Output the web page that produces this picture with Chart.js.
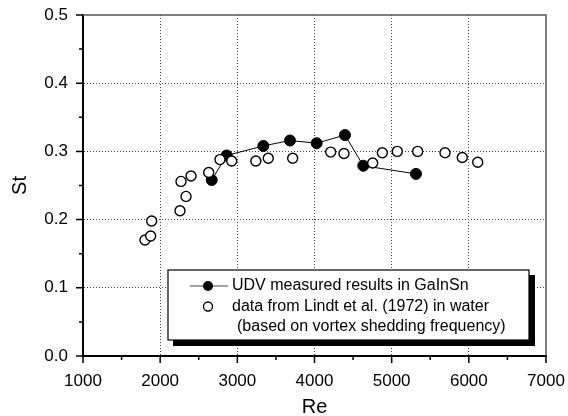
<!DOCTYPE html>
<html>
<head>
<meta charset="utf-8">
<script src="https://cdn.jsdelivr.net/npm/chart.js@4/dist/chart.umd.min.js"></script>
<style>
  html, body { margin: 0; padding: 0; background: #fff; }
  #wrap { width: 568px; height: 416px; }
</style>
</head>
<body>
<div id="wrap"><canvas id="stChart" width="568" height="416"></canvas></div>
<script>
// UDV measurements (filled, joined by a line)
const udvRe = [2668, 2862, 3337, 3682, 4028, 4395, 4632, 5315];
const udvSt = [0.258, 0.294, 0.308, 0.316, 0.312, 0.324, 0.279, 0.267];

// Lindt et al. (1972), water (open circles)
const lindtRe = [1803, 1877, 1890, 2257, 2270, 2335, 2400, 2629, 2775, 2927, 3240,
                 3401, 3717, 4210, 4382, 4754, 4879, 5073, 5337, 5691, 5915, 6115];
const lindtSt = [0.170, 0.176, 0.198, 0.213, 0.256, 0.234, 0.264, 0.269, 0.288, 0.286, 0.286,
                 0.290, 0.290, 0.299, 0.297, 0.283, 0.298, 0.300, 0.300, 0.298, 0.291, 0.284];

const legendLines = [
    'UDV measured results in GaInSn',
    'data from Lindt et al. (1972) in water',
    '(based on vortex shedding frequency)'
];

const FONT = "'Liberation Sans', Arial, sans-serif";
Chart.defaults.font.family = FONT;
Chart.defaults.color = '#000';

function toPoints(xs, ys) {
    return xs.map((x, i) => ({ x: x, y: ys[i] }));
}

const isMajorX = v => Math.round(v) % 1000 === 0;
const isMajorY = v => Math.round(v * 100) % 10 === 0;

// frame (top/right), outward tick marks and the boxed legend
const decorations = {
    id: 'decorations',
    afterDraw(chart) {
        const ctx = chart.ctx;
        const a = chart.chartArea;
        const xs = chart.scales.x, ys = chart.scales.y;
        ctx.save();

        // top and right frame lines
        ctx.strokeStyle = '#555';
        ctx.lineWidth = 1.5;
        ctx.beginPath();
        ctx.moveTo(a.left, a.top);
        ctx.lineTo(a.right, a.top);
        ctx.lineTo(a.right, a.bottom);
        ctx.stroke();

        // tick marks
        ctx.strokeStyle = '#000';
        ctx.lineWidth = 1.5;
        ctx.beginPath();
        xs.ticks.forEach(t => {
            const px = xs.getPixelForValue(t.value);
            const len = isMajorX(t.value) ? 7 : 4;
            ctx.moveTo(px, a.bottom);
            ctx.lineTo(px, a.bottom + len);
        });
        ys.ticks.forEach(t => {
            const py = ys.getPixelForValue(t.value);
            const len = isMajorY(t.value) ? 7 : 4;
            ctx.moveTo(a.left, py);
            ctx.lineTo(a.left - len, py);
        });
        ctx.stroke();

        // legend box with drop shadow
        const bx = 168, by = 270, bw = 361, bh = 70;
        ctx.fillStyle = '#000';
        ctx.fillRect(bx + 5, by + 5, bw + 1, bh + 1);
        ctx.fillStyle = '#fff';
        ctx.fillRect(bx, by, bw, bh);
        ctx.strokeStyle = '#000';
        ctx.lineWidth = 1.2;
        ctx.strokeRect(bx, by, bw, bh);

        // legend symbols
        ctx.strokeStyle = '#444';
        ctx.lineWidth = 1;
        ctx.beginPath();
        ctx.moveTo(190, 286);
        ctx.lineTo(228, 286);
        ctx.stroke();
        ctx.fillStyle = '#000';
        ctx.beginPath();
        ctx.arc(208, 286, 5, 0, Math.PI * 2);
        ctx.fill();
        ctx.fillStyle = '#fff';
        ctx.strokeStyle = '#000';
        ctx.lineWidth = 1.3;
        ctx.beginPath();
        ctx.arc(208, 306.5, 4.5, 0, Math.PI * 2);
        ctx.fill();
        ctx.stroke();

        // legend text
        ctx.fillStyle = '#000';
        ctx.font = '16px ' + FONT;
        ctx.textAlign = 'left';
        ctx.textBaseline = 'middle';
        ctx.fillText(legendLines[0], 232, 286);
        ctx.fillText(legendLines[1], 232, 306.5);
        ctx.fillText(legendLines[2], 237, 327);
        ctx.restore();
    }
};

const stCtx = document.getElementById('stChart').getContext('2d');

const stChart = new Chart(stCtx, {
    type: 'scatter',
    data: {
        datasets: [{
            label: legendLines[1],
            data: toPoints(lindtRe, lindtSt),
            pointStyle: 'circle',
            pointRadius: 5,
            pointBackgroundColor: '#fff',
            pointBorderColor: '#000',
            pointBorderWidth: 1.4,
            showLine: false,
            order: 0
        }, {
            label: legendLines[0],
            data: toPoints(udvRe, udvSt),
            pointStyle: 'circle',
            pointRadius: 5.5,
            pointBackgroundColor: '#000',
            pointBorderColor: '#000',
            pointBorderWidth: 1,
            showLine: true,
            borderColor: '#000',
            borderWidth: 1,
            order: 1
        }]
    },
    options: {
        responsive: false,
        animation: false,
        layout: { padding: { top: 15, right: 22, left: 0, bottom: 0 } },
        plugins: {
            legend: { display: false },
            tooltip: { enabled: false }
        },
        scales: {
            x: {
                type: 'linear',
                position: 'bottom',
                min: 1000,
                max: 7000,
                afterFit: s => { s.height = 60; s.paddingLeft = 0; s.paddingRight = 0; },
                ticks: {
                    stepSize: 500,
                    padding: 15,
                    maxRotation: 0,
                    autoSkip: false,
                    font: { size: 17 },
                    callback: v => isMajorX(v) ? String(v) : ''
                },
                grid: {
                    drawTicks: false,
                    lineWidth: 1,
                    color: c => (c.tick && isMajorX(c.tick.value) && c.tick.value > 1000 && c.tick.value < 7000) ? '#444' : 'transparent'
                },
                border: { display: true, color: '#000', width: 2, dash: [1, 2] },
                title: {
                    display: true,
                    text: 'Re',
                    font: { size: 20, lineHeight: 1 },
                    padding: { top: 0, bottom: -1 }
                }
            },
            y: {
                type: 'linear',
                min: 0,
                max: 0.5,
                afterFit: s => { s.width = 83; s.paddingTop = 0; s.paddingBottom = 0; },
                ticks: {
                    stepSize: 0.05,
                    padding: 15,
                    autoSkip: false,
                    font: { size: 17 },
                    callback: v => isMajorY(v) ? v.toFixed(1) : ''
                },
                grid: {
                    drawTicks: false,
                    lineWidth: 1,
                    color: c => (c.tick && isMajorY(c.tick.value) && c.tick.value > 0.001 && c.tick.value < 0.499) ? '#444' : 'transparent'
                },
                border: { display: true, color: '#000', width: 2, dash: [1, 2] },
                title: {
                    display: true,
                    text: 'St',
                    font: { size: 20, lineHeight: 1 },
                    padding: { top: 10, bottom: 0 }
                }
            }
        }
    },
    plugins: [decorations]
});
</script>
</body>
</html>
